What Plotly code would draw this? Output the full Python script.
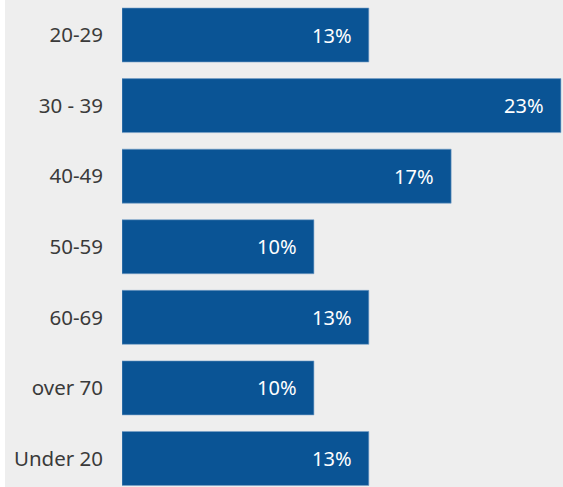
import plotly.graph_objects as go

# age groups, top to bottom
age_groups = ["20-29", "30 - 39", "40-49", "50-59", "60-69", "over 70", "Under 20"]
share_pct = [13.04, 23.19, 17.39, 10.14, 13.04, 10.14, 13.04]

BAR = "#0a5495"
BG = "#eeeeee"
FONT = "Noto Sans"

fig = go.Figure(go.Bar(
    x=share_pct,
    y=age_groups,
    orientation="h",
    marker=dict(color=BAR, line=dict(color="rgba(120,160,200,0.6)", width=1)),
    width=0.765,
    hoverinfo="x+y",
))

# value labels sit inside the bar end
for g, v in zip(age_groups, share_pct):
    fig.add_annotation(
        x=v, y=g, text=f"{v:.0f}%", showarrow=False,
        xanchor="right", xshift=-15,
        font=dict(family=FONT, size=20, color="white"),
    )

# thin white strip on the far left
fig.add_shape(type="rect", xref="paper", yref="paper",
              x0=-122 / 441, x1=-117 / 441, y0=0, y1=1,
              fillcolor="white", line_width=0, layer="above")

fig.update_layout(
    width=563, height=487,
    margin=dict(l=122, r=0, t=0, b=0),
    paper_bgcolor=BG, plot_bgcolor=BG,
    showlegend=False,
    xaxis=dict(range=[0, 23.3], visible=False),
    yaxis=dict(
        categoryorder="array", categoryarray=age_groups,
        range=[6.404, -0.496],
        showgrid=False, zeroline=False, showline=False,
        ticks="", ticklabelstandoff=18,
        tickfont=dict(family=FONT, size=20.5, color="#3a3a3a"),
    ),
)

# drop the default page margin so the chart sits at the window corner
fig.write_html("out.html", config={"displayModeBar": False},
               post_script="document.body.style.margin='0';")
